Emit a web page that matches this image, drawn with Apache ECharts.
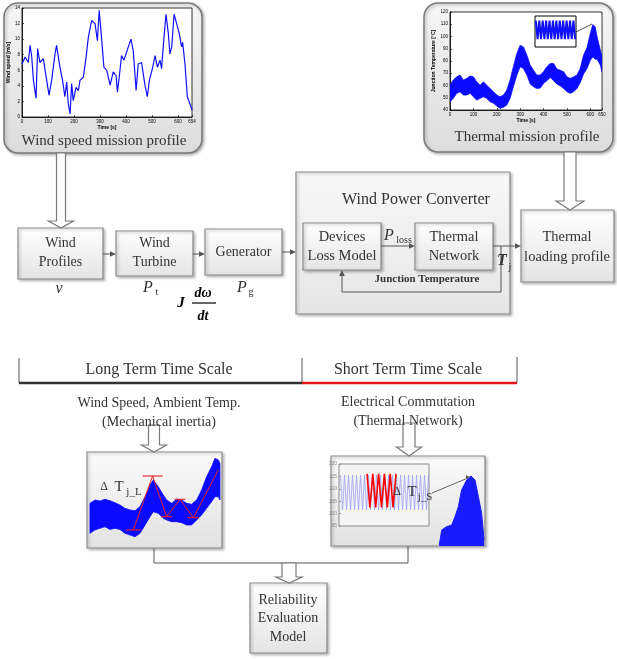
<!DOCTYPE html>
<html><head><meta charset="utf-8">
<script src="https://cdn.jsdelivr.net/npm/echarts@6/dist/echarts.min.js"></script>
<style>html,body{margin:0;padding:0;background:#fff}#c{width:617px;height:659px}</style>
</head><body><div id="c"></div>
<script>
// ---------- data ----------
const windTime = [0,12,24,31,37,44,54,60,69,82,95,104,114,127,133,146,156,165,172,178,185,191,197,208,217,223,236,246,255,268,281,290,297,306,315,326,339,351,362,367,374,383,392,400,409,419,428,439,447,460,473,482,490,503,512,521,531,537,546,554,563,569,576,585,595,605,614,618,627,636,646,654];
const windSpeed = [6.8,7.7,7.0,9.2,7.9,4.7,2.4,8.8,7.0,7.5,4.7,2.8,4.7,8.1,9.2,6.4,4.7,2.6,4.5,1.7,0.4,4.3,2.1,3.8,3.4,4.7,5.1,7.5,10.2,12.4,12.0,9.8,13.7,10.2,6.4,6.0,4.1,5.8,5.3,3.2,5.1,7.9,7.3,8.1,9.0,10.0,8.5,3.4,6.8,7.0,4.1,2.6,4.7,6.4,7.9,6.4,7.3,6.2,10.2,13.2,10.7,8.1,9.0,13.2,12.0,10.7,9.0,9.6,6.8,2.6,1.7,0.9];

const thermTime = [0,14,29,43,57,71,86,100,114,129,143,157,171,186,200,214,229,243,257,271,286,300,314,329,343,357,371,386,400,414,429,443,457,471,486,500,514,529,543,557,571,586,600,611,621,629,643,650];
const thermUpper = [60.3,64.4,67.1,68.5,64.4,65.8,67.7,67.1,63.0,60.3,63.0,60.3,57.6,54.9,52.2,50.8,52.2,56.3,64.4,75.3,86.1,92.9,91.5,84.7,76.6,72.5,68.5,68.5,71.2,75.3,78.0,78.0,73.4,72.5,71.2,67.1,65.8,67.1,68.5,73.9,84.7,91.0,102.4,109.7,107.8,99.7,88.8,83.4];
const thermLower = [46.8,49.5,53.6,54.9,52.2,52.2,53.6,50.8,48.1,49.5,50.8,49.5,46.8,45.5,43.3,41.4,42.2,44.1,49.5,59.0,68.5,75.3,73.9,68.5,61.2,59.0,57.6,57.9,61.7,63.9,66.6,63.9,61.2,59.8,57.6,54.9,53.6,54.9,57.6,62.5,69.3,73.9,80.7,83.4,81.5,81.5,76.6,71.2];

const insetZoom = [8.5,2.5,8.5,2.5,8.5,2.5,8.5,2.5,8.5,2.5,8.5,2.5,8.5,2.5,8.5,2.5,8.5,2.5,8.5,2.5,8.5,2.5,8.5,2.5];

const longX = [2.2,5.9,9.6,13.3,17.0,20.7,24.4,28.1,31.9,35.6,39.3,43.0,46.7,49.1,52.8,56.5,59.0,62.7,66.4,70.1,73.8,77.5,81.2,84.9,88.6,92.3,94.8,97.3,98.5];
const longUpper = [46.5,50.0,49.0,50.7,49.3,47.2,44.8,41.3,39.6,38.9,43.1,53.5,65.6,70.8,63.9,55.2,50.0,46.5,50.7,50.0,46.5,45.5,50.0,60.4,74.3,84.7,93.4,91.7,88.2];
const longLower = [15.3,18.8,20.5,22.2,19.4,20.5,19.4,15.3,13.5,11.8,15.3,24.0,32.6,37.8,36.1,30.9,29.2,27.4,27.4,26.4,24.0,24.0,29.2,34.4,41.3,48.3,53.5,53.5,50.0];
const cycleX = [34.3,48.6,59.0,68.9,78.8,97.3];
const cycleY = [18.8,75.0,32.6,50.7,31.6,81.3];

const blobX = [70.3,71.9,75.1,78.4,80.5,82.7,84.8,88.1,90.9,93.5,95.7,97.8,99.4];
const blobY = [1.1,17.8,21.5,23.3,32.6,43.7,62.2,73.3,77.8,73.3,54.8,36.3,6.7];
const oscBlue = [115.5,101.5,115.5,101.5,115.5,101.5,115.5,101.5,115.5,101.5,115.5,101.5,115.5,101.5,115.5,101.5,115.5,101.5,115.5,101.5,115.5,101.5,115.5,101.5,115.5,101.5,115.5,101.5,115.5,101.5,115.5,101.5,115.5,101.5,115.5,101.5,115.5,101.5,115.5,101.5,115.5,101.5,115.5,101.5,115.5];
const oscRed = [116,102.5,116,102.5,116,102.5,116,102.5,116,102.5,116];

// ---------- helpers ----------
const serif = '"Liberation Serif","DejaVu Serif",serif';
const G = [];
const grad = (a,b)=> new echarts.graphic.LinearGradient(0,0,0,1,[{offset:0,color:a},{offset:1,color:b}]);
function box(x,y,w,h,o={}){
  G.push({type:'rect',z:o.z??-5,shape:{x,y,width:w,height:h,r:o.r||0},
    style:{fill:o.fill||grad('#ffffff','#e4e4e4'),stroke:o.stroke||'#8c8c8c',lineWidth:o.lw||1.2,
      shadowBlur:3,shadowOffsetX:1.5,shadowOffsetY:1.5,shadowColor:'rgba(0,0,0,0.28)'}});
}
function txt(x,y,s,size,o={}){
  G.push({type:'text',z:100,x,y,style:{text:s,font:(o.style||'')+' '+(o.weight||'')+' '+size+'px '+serif,
    fill:o.color||'#333',textAlign:o.align||'center',align:o.align||'center',textVerticalAlign:'middle',verticalAlign:'middle'}});
}
function line(pts,color,w,o={}){
  G.push({type:'polyline',z:o.z??60,shape:{points:pts},style:{stroke:color,lineWidth:w,fill:null}});
}
function head(x,y,dir,color,L=6,W=2.8){
  let p;
  if(dir==='r') p=[[x,y],[x-L,y-W],[x-L,y+W]];
  if(dir==='u') p=[[x,y],[x-W,y+L],[x+W,y+L]];
  if(dir==='d') p=[[x,y],[x-W,y-L],[x+W,y-L]];
  G.push({type:'polygon',z:61,shape:{points:p},style:{fill:color}});
}
function arrowR(x0,x1,y){ line([[x0,y],[x1-4,y]],'#555',1); head(x1,y,'r','#555'); }
function hollow(cx,y0,y1,sw,hw,hh){
  G.push({type:'polygon',z:40,shape:{points:[[cx-sw,y0],[cx+sw,y0],[cx+sw,y1-hh],[cx+hw,y1-hh],[cx,y1],[cx-hw,y1-hh],[cx-sw,y1-hh]]},
    style:{fill:'#fff',stroke:'#7a7a7a',lineWidth:1.2}});
}

// ---------- boxes ----------
box(4,3,198,150,{r:14,fill:grad('#f6f6f6','#dcdcdc'),stroke:'#7a7a7a',lw:1.5});
box(424,3,189,149,{r:14,fill:grad('#f6f6f6','#dcdcdc'),stroke:'#7a7a7a',lw:1.5});
box(18,228,85,51);
box(116,231,77,45);
box(205,229,77,46);
box(296,172,214,142,{fill:grad('#f8f8f8','#e6e6e6')});
box(303,223,78,47,{z:-4});
box(415,223,78,47,{z:-4});
box(521,210,93,72);
box(87,452,135,96,{fill:grad('#fbfbfb','#e2e2e2')});
box(331,456,154,90,{fill:grad('#fbfbfb','#e2e2e2')});
box(250,583,77,70);

// hollow arrows
hollow(61,153,228,4.5,12.5,7);
hollow(570,152,210,6,14,9);
hollow(154,425,452,5.5,12.5,7);
hollow(409,423,456,6,12.5,9);
hollow(289,563,583,7,13,6);

// small arrows
arrowR(103,116,254);
arrowR(193,205,254);
arrowR(282,296,252);
arrowR(381,415,246);
arrowR(493,521,246);
line([[501,246],[501,292],[342,292],[342,275]],'#555',1);
head(342,270,'u','#555');
line([[154,548],[154,563],[408,563],[408,546]],'#555',1,{z:-6});

// time-scale bracket
line([[19,358],[19,383]],'#555',1);
line([[302,358],[302,383]],'#555',1);
line([[517,357],[517,383]],'#555',1);
line([[19,383],[302,383]],'#333',2.5);
line([[302,383],[517,383]],'#e8141b',2.5);

// connectors
line([[576,32],[592,24]],'#222',0.8);
line([[432,493],[468,478]],'#555',0.9);
head(470,477,'r','#555',4,1.8);

// ---------- texts ----------
txt(104,141,'Wind speed mission profile',15);
txt(527,137,'Thermal mission profile',15);
txt(60.5,243,'Wind',14); txt(60.5,262,'Profiles',14);
txt(154.5,243,'Wind',14); txt(154.5,262,'Turbine',14);
txt(243.5,252,'Generator',14);
txt(59,289,'v',16,{style:'italic'});
txt(148,288,'P',16,{style:'italic'}); txt(157,292,'t',10);
txt(242,288,'P',16,{style:'italic'}); txt(251,292,'g',10);
txt(181,303,'J',15,{style:'italic',weight:'bold',color:'#000'});
txt(203,293,'dω',14,{style:'italic',weight:'bold',color:'#000'});
txt(203,316,'dt',14,{style:'italic',weight:'bold',color:'#000'});
line([[192,303],[216,303]],'#000',1.2);
txt(416,200,'Wind Power Converter',16);
txt(342,237,'Devices',14.5); txt(342,256,'Loss Model',14.5);
txt(454,237,'Thermal',14.5); txt(454,256,'Network',14.5);
txt(389,236,'P',16,{style:'italic'}); txt(404,240,'loss',10);
txt(427,279,'Junction Temperature',11,{weight:'bold'});
txt(502,261,'T',16,{style:'italic',weight:'bold'}); txt(510,267,'j',10);
txt(567,237,'Thermal',14.5); txt(567,257,'loading profile',14.5);
txt(159,370,'Long Term Time Scale',16);
txt(408,370,'Short Term Time Scale',16);
txt(159,403,'Wind Speed, Ambient Temp.',14); txt(159,422,'(Mechanical inertia)',14);
txt(408,402,'Electrical Commutation',14); txt(408,421,'(Thermal Network)',14);
txt(104,487,'Δ',12); txt(119,487,'T',15); txt(134,492,'j_L',11);
txt(397,492,'Δ',12); txt(412,492,'T',15); txt(425,497,'j_S',11);
txt(288,600,'Reliability',14); txt(288,618,'Evaluation',14); txt(288,637,'Model',14);

// ---------- charts ----------
const tinyAxis = (extra)=>Object.assign({
  axisLine:{show:true,lineStyle:{color:'#000',width:0.8}},
  axisTick:{show:true,inside:true,length:2,lineStyle:{color:'#000',width:0.6}},
  axisLabel:{fontSize:4.5,color:'#000',margin:2},
  splitLine:{show:false}
},extra);
const hidden = (extra)=>Object.assign({show:false,splitLine:{show:false}},extra);

// band between lower and upper envelopes, drawn as one polygon through the axes' scales
function bandSeries(xIdx, X, U, L, color){
  return {type:'custom',xAxisIndex:xIdx,yAxisIndex:xIdx,clip:true,
    data:X.map((x,i)=>[x,L[i],U[i]]),
    encode:{x:0,y:[1,2]},
    renderItem:function(params, api){
      if(params.dataIndex!==0) return null;
      const pts = [];
      for(let i=0;i<X.length;i++) pts.push(api.coord([X[i],U[i]]));
      for(let i=X.length-1;i>=0;i--) pts.push(api.coord([X[i],L[i]]));
      return {type:'polygon',shape:{points:pts},style:{fill:color,stroke:color,lineWidth:0.8}};
    }};
}

const option = {
  animation:false,
  backgroundColor:'#fff',
  grid:[
    {left:22,top:8,width:170,height:109,show:true,backgroundColor:'#fff',borderColor:'#000',borderWidth:0.8},
    {left:450,top:12,width:152,height:98,show:true,backgroundColor:'#fff',borderColor:'#000',borderWidth:0.8},
    {left:535,top:16,width:41,height:31,show:true,backgroundColor:'#fff',borderColor:'#000',borderWidth:1,z:5},
    {left:87,top:452,width:135,height:96},
    {left:331,top:456,width:154,height:90},
    {left:339,top:464,width:90,height:62,show:true,backgroundColor:'#f4f4f4',borderColor:'#8a8a8a',borderWidth:1}
  ],
  xAxis:[
    tinyAxis({gridIndex:0,type:'value',min:0,max:654,interval:100,name:'Time [s]',nameLocation:'middle',nameGap:8,nameTextStyle:{fontSize:5,fontWeight:'bold'}}),
    tinyAxis({gridIndex:1,type:'value',min:0,max:650,interval:100,name:'Time [s]',nameLocation:'middle',nameGap:8,nameTextStyle:{fontSize:5,fontWeight:'bold'}}),
    hidden({gridIndex:2,type:'value',min:0,max:24}),
    hidden({gridIndex:3,type:'value',min:0,max:100}),
    hidden({gridIndex:4,type:'value',min:0,max:100}),
    hidden({gridIndex:5,type:'value',min:0,max:90})
  ],
  yAxis:[
    tinyAxis({gridIndex:0,type:'value',min:0,max:14,interval:2,name:'Wind speed [m/s]',nameLocation:'middle',nameGap:10,nameTextStyle:{fontSize:5,fontWeight:'bold'}}),
    tinyAxis({gridIndex:1,type:'value',min:40,max:120,interval:10,name:'Junction Temperature [°C]',nameLocation:'middle',nameGap:12,nameTextStyle:{fontSize:5,fontWeight:'bold'}}),
    hidden({gridIndex:2,type:'value',min:0,max:10}),
    hidden({gridIndex:3,type:'value',min:0,max:100}),
    hidden({gridIndex:4,type:'value',min:0,max:100}),
    {gridIndex:5,type:'value',min:95,max:120,interval:5,
      axisLine:{show:false},axisTick:{show:true,inside:true,length:2,lineStyle:{color:'#999'}},
      axisLabel:{fontSize:5,color:'#888',margin:2},splitLine:{show:false}}
  ],
  series:[
    {type:'line',xAxisIndex:0,yAxisIndex:0,symbol:'none',data:windTime.map((t,i)=>[t,windSpeed[i]]),
      lineStyle:{color:'#1010ff',width:1.2}},
    bandSeries(1, thermTime, thermUpper, thermLower, '#0a0aff'),
    {type:'line',xAxisIndex:2,yAxisIndex:2,symbol:'none',z:6,data:insetZoom.map((v,i)=>[i+0.5,v]),
      lineStyle:{color:'#1010ff',width:2}},
    bandSeries(3, longX, longUpper, longLower, '#0a0aff'),
    {type:'line',xAxisIndex:3,yAxisIndex:3,symbol:'none',z:8,data:cycleX.map((x,i)=>[x,cycleY[i]]),
      lineStyle:{color:'#e5202a',width:1}},
    {type:'scatter',xAxisIndex:3,yAxisIndex:3,z:8,symbol:'rect',
      data:cycleX.slice(0,5).map((x,i)=>({value:[x,cycleY[i]],symbolSize:[i===1?20:(i===0?15:11),1.4]})),
      itemStyle:{color:'#e5202a'}},
    {type:'line',xAxisIndex:4,yAxisIndex:4,symbol:'none',data:blobX.map((x,i)=>[x,blobY[i]]),
      lineStyle:{color:'#1a1aff',width:1},areaStyle:{color:'#1a1aff',opacity:1,origin:'start'}},
    {type:'line',xAxisIndex:5,yAxisIndex:5,symbol:'none',data:oscBlue.map((v,i)=>[1.5+i*2,v]),
      lineStyle:{color:'#9ca0f4',width:0.8}},
    {type:'line',xAxisIndex:5,yAxisIndex:5,symbol:'none',z:7,data:oscRed.map((v,i)=>[28+i*2.9,v]),
      lineStyle:{color:'#ff0000',width:1.6}}
  ],
  graphic:{elements:G}
};
const chart = echarts.init(document.getElementById('c'),null,{renderer:'canvas'});
chart.setOption(option);
</script>
</body></html>
